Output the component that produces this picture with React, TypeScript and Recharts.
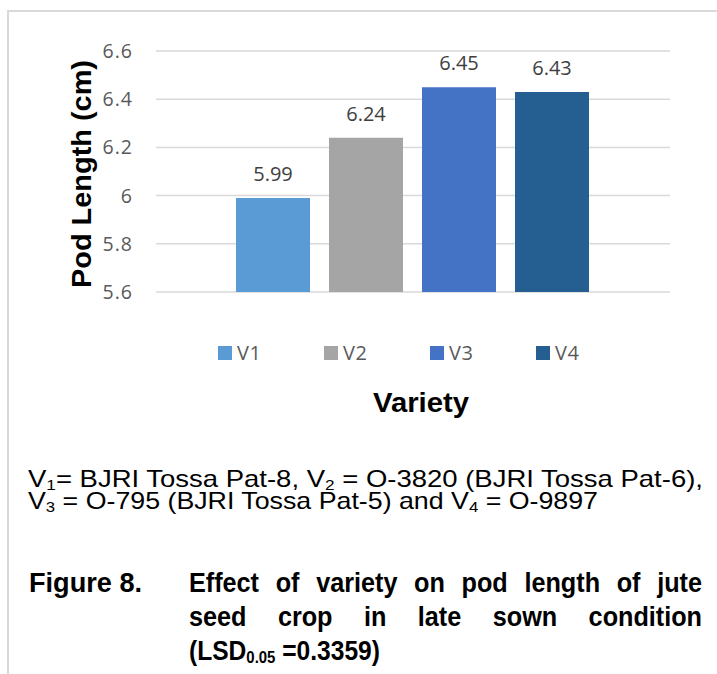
import React from 'react';
import { BarChart, Bar, XAxis, YAxis, CartesianGrid, Legend, LabelList } from 'recharts';

const varieties = ['V1', 'V2', 'V3', 'V4'];
const podLength = [5.99, 6.24, 6.45, 6.43];
const barColors = ['#5B9BD5', '#A5A5A5', '#4472C4', '#255E91'];
const yTicks = [5.6, 5.8, 6, 6.2, 6.4, 6.6];
const categoryName = 'Variety';
const yTitle = 'Pod Length (cm)';
const xTitle = 'Variety';
const figLabel = 'Figure 8.';
const figLine1 = 'Effect of variety on pod length of jute';
const figLine2 = 'seed crop in late sown condition';

const data = [
  varieties.reduce<Record<string, any>>((row, v, i) => ({ ...row, [v]: podLength[i] }), { name: categoryName }),
];

const chartFont = "'Open Sans', 'Noto Sans', sans-serif";
const capFont = "'Liberation Sans', Arial, sans-serif";

const renderLegend = (props: any) => (
  <div style={{ display: 'flex' }}>
    {(props.payload || []).map((e: any) => (
      <div key={e.value} style={{ width: 106, display: 'flex', alignItems: 'center' }}>
        <span style={{ width: 14, height: 14, background: e.color, marginRight: 5, display: 'inline-block' }} />
        <span style={{ fontSize: 20, color: '#595959', fontFamily: chartFont, lineHeight: '20px', letterSpacing: 0.5 }}>
          {e.value}
        </span>
      </div>
    ))}
  </div>
);

const justifiedLine = (text: string, top: number) => (
  <div
    style={{
      position: 'absolute',
      left: 189,
      top,
      width: 570,
      fontFamily: capFont,
      fontWeight: 'bold',
      fontSize: 28,
      lineHeight: '34px',
      color: '#000',
      textAlign: 'justify',
      textAlignLast: 'justify' as any,
      transform: 'scaleX(0.9)',
      transformOrigin: 'left top',
    }}
  >
    {text}
  </div>
);

export default function App() {
  return (
    <div style={{ position: 'absolute', left: 0, top: 0, width: 717, height: 674, background: '#fff', overflow: 'hidden' }}>
      <div
        style={{
          position: 'absolute',
          left: 7,
          top: 10,
          width: 760,
          height: 760,
          border: '2px solid #D9D9D9',
          boxSizing: 'border-box',
        }}
      />
      <div style={{ position: 'absolute', left: 0, top: 0 }}>
        <BarChart
          width={717}
          height={674}
          data={data}
          margin={{ top: 51, right: 47, bottom: 382, left: 0 }}
          barCategoryGap={80}
          barGap={19}
        >
          <CartesianGrid vertical={false} stroke="#D9D9D9" strokeWidth={1.5} />
          <XAxis dataKey="name" hide />
          <YAxis
            width={156}
            domain={[5.6, 6.6]}
            ticks={yTicks}
            axisLine={false}
            tickLine={false}
            tickSize={0}
            tickMargin={23}
            tick={{ fill: '#595959', fontSize: 19.5, fontFamily: chartFont, letterSpacing: 1 }}
          />
          {varieties.map((v, i) => (
            <Bar key={v} dataKey={v} fill={barColors[i]} isAnimationActive={false}>
              <LabelList
                dataKey={v}
                position="top"
                offset={17}
                fill="#404040"
                fontSize={20}
                fontFamily={chartFont}
              />
            </Bar>
          ))}
          <Legend
            layout="horizontal"
            verticalAlign="middle"
            align="center"
            wrapperStyle={{ top: 343, left: 218, width: 450 }}
            content={renderLegend}
          />
        </BarChart>
      </div>
      <svg width={717} height={674} style={{ position: 'absolute', left: 0, top: 0, pointerEvents: 'none' }}>
        <text
          x={0}
          y={0}
          transform="translate(81,174) rotate(-90)"
          textAnchor="middle"
          dominantBaseline="central"
          fontFamily={capFont}
          fontWeight="bold"
          fontSize={28}
          textLength={228}
          lengthAdjust="spacingAndGlyphs"
          fill="#000"
        >
          {yTitle}
        </text>
        <text
          x={373}
          y={412}
          fontFamily={capFont}
          fontWeight="bold"
          fontSize={27}
          textLength={96}
          lengthAdjust="spacingAndGlyphs"
          fill="#000"
        >
          {xTitle}
        </text>
        <text x={28} y={487} fontFamily={capFont} fontSize={24} textLength={675} lengthAdjust="spacingAndGlyphs" fill="#000">
          <tspan>V</tspan>
          <tspan fontSize={15} dy={3}>1</tspan>
          <tspan dy={-3}>= BJRI Tossa Pat-8, V</tspan>
          <tspan fontSize={15} dy={3}>2</tspan>
          <tspan dy={-3}> = O-3820 (BJRI Tossa Pat-6),</tspan>
        </text>
        <text x={28} y={509} fontFamily={capFont} fontSize={24} textLength={570} lengthAdjust="spacingAndGlyphs" fill="#000">
          <tspan>V</tspan>
          <tspan fontSize={15} dy={3}>3</tspan>
          <tspan dy={-3}> = O-795 (BJRI Tossa Pat-5) and V</tspan>
          <tspan fontSize={15} dy={3}>4</tspan>
          <tspan dy={-3}> = O-9897</tspan>
        </text>
        <text x={29} y={592} fontFamily={capFont} fontWeight="bold" fontSize={28} textLength={113} lengthAdjust="spacingAndGlyphs" fill="#000">
          {figLabel}
        </text>
        <text x={189} y={660} fontFamily={capFont} fontWeight="bold" fontSize={28} textLength={191} lengthAdjust="spacingAndGlyphs" fill="#000">
          <tspan>(LSD</tspan>
          <tspan fontSize={17} dy={3}>0.05</tspan>
          <tspan dy={-3}> =0.3359)</tspan>
        </text>
      </svg>
      {justifiedLine(figLine1, 566)}
      {justifiedLine(figLine2, 600)}
    </div>
  );
}
